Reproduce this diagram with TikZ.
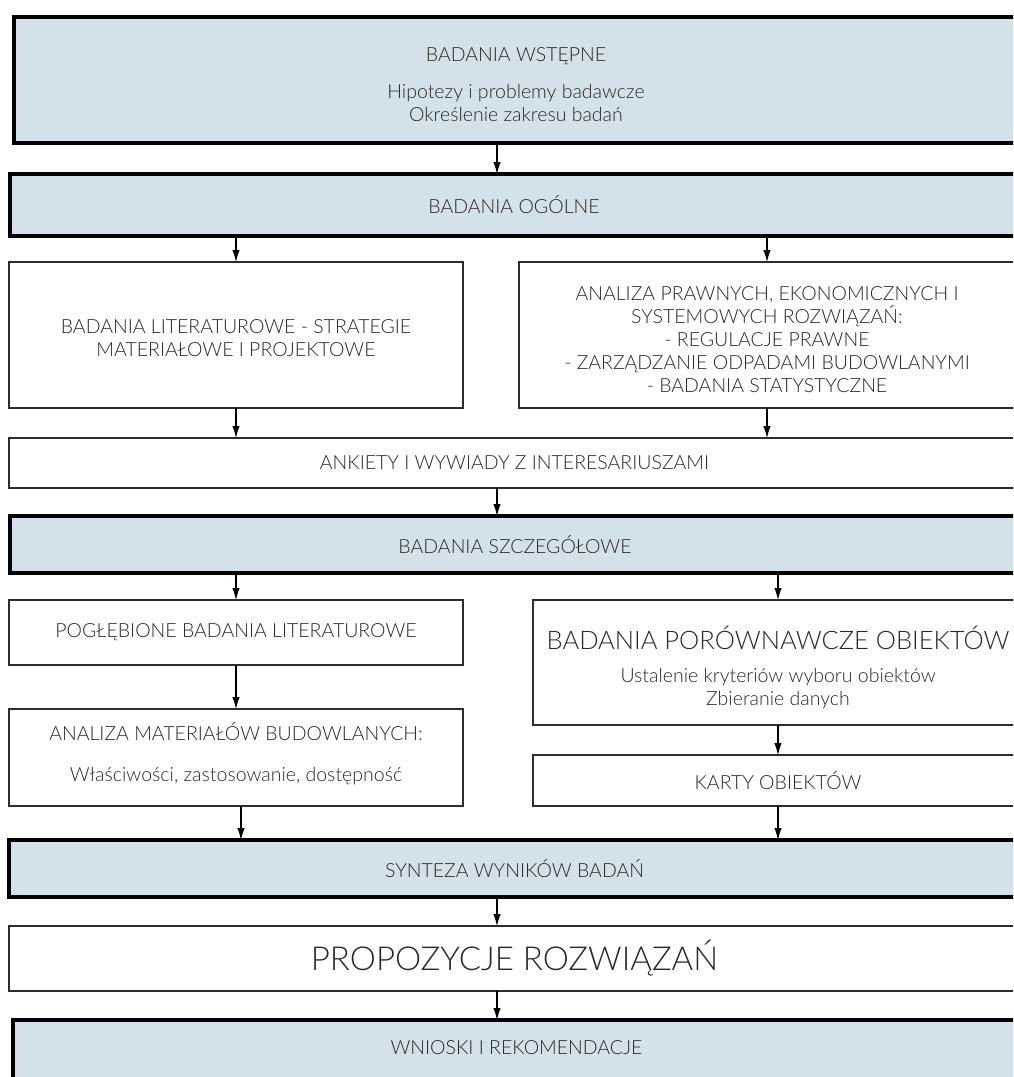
\documentclass[tikz,border=0pt]{standalone}
\usepackage{fontspec}
\setmainfont{Lato}[UprightFont={* Light}]
\usetikzlibrary{arrows.meta}
\definecolor{bluefill}{RGB}{211,225,232}
\definecolor{txtcol}{RGB}{40,40,40}
\definecolor{thinline}{RGB}{45,45,45}
\newcommand{\bigline}[1]{{\fontsize{25.5}{28}\selectfont #1}}
\tikzset{
  box/.style={rectangle, inner sep=0pt, outer sep=0pt, anchor=north west, align=center, text=txtcol,
    font=\fontsize{19.5}{23}\selectfont},
  thickbox/.style={box, draw=black, line width=3.5pt, fill=bluefill},
  thinbox/.style={box, draw=thinline, line width=1.6pt, fill=white},
  arr/.style={-{Latex[length=12pt,width=7.5pt]}, line width=1.1pt, draw=black},
  txt/.style={text=txtcol, inner sep=0pt, align=center, font=\fontsize{19.5}{23}\selectfont}
}
\begin{document}
\begin{tikzpicture}[x=1pt,y=-1pt]
\useasboundingbox (0,0) rectangle (1013,1077);
\clip (0,0) rectangle (1013,1077);
\fill[white] (0,0) rectangle (1013,1077);
\coordinate (mx) at (497,0);

% boxes
\node[thickbox, minimum width=1004pt, minimum height=126pt] (b1) at (14,17) {};
\node[thickbox, minimum width=1008pt, minimum height=62pt] (b2) at (10,174) {BADANIA OGÓLNE};
\node[thinbox, minimum width=454pt, minimum height=146pt] (b3) at (9,262) {};
\node[thinbox, minimum width=496pt, minimum height=146pt] (b4) at (519,262) {};
\node[thinbox, minimum width=1011pt, minimum height=50pt] (b5) at (9,438)
  {ANKIETY I WYWIADY Z INTERESARIUSZAMI};
\node[thickbox, minimum width=1010pt, minimum height=57pt] (b6) at (10,516) {BADANIA SZCZEGÓŁOWE};
\node[thinbox, minimum width=454pt, minimum height=65pt] (b7) at (9,600) {POGŁĘBIONE BADANIA LITERATUROWE};
\node[thinbox, minimum width=490pt, minimum height=125pt] (b8) at (533,600) {};
\node[thinbox, minimum width=454pt, minimum height=97pt] (b9) at (9,709) {};
\node[thinbox, minimum width=490pt, minimum height=51pt] (b10) at (533,755) {KARTY OBIEKTÓW};
\node[thickbox, minimum width=1011pt, minimum height=57pt] (b11) at (9,840) {SYNTEZA WYNIKÓW BADAŃ};
\node[thinbox, minimum width=1011pt, minimum height=65pt, font=\fontsize{33}{36}\selectfont] (b12) at (9,926) {PROPOZYCJE ROZWIĄZAŃ};
\node[thickbox, minimum width=1007pt, minimum height=80pt] (b13) at (13,1020) {};

% texts placed inside boxes
\node[txt] (t1) at ([yshift=-4.5pt]b1.center)
  {BADANIA WSTĘPNE\\[14pt] Hipotezy i problemy badawcze\\[0pt] Określenie zakresu badań};
\node[txt] (t3) at ([yshift=-3pt]b3.center)
  {BADANIA LITERATUROWE - STRATEGIE\\ MATERIAŁOWE I PROJEKTOWE};
\node[txt] (t4) at ([yshift=-5pt]b4.center)
  {ANALIZA PRAWNYCH, EKONOMICZNYCH I\\ SYSTEMOWYCH ROZWIĄZAŃ:\\ - REGULACJE PRAWNE\\ - ZARZĄDZANIE ODPADAMI BUDOWLANYMI\\ - BADANIA STATYSTYCZNE};
\node[txt] (t8) at ([yshift=-5pt]b8.center)
  {\bigline{BADANIA PORÓWNAWCZE OBIEKTÓW}\\[10pt]
   Ustalenie kryteriów wyboru obiektów\\[0pt] Zbieranie danych};
\node[txt] (t9) at ([yshift=4pt]b9.center)
  {ANALIZA MATERIAŁÓW BUDOWLANYCH:\\[18pt] Właściwości, zastosowanie, dostępność};
\node[txt] (t13) at ([yshift=-28pt]b13.north) {WNIOSKI I REKOMENDACJE};

% connectors
\coordinate (c9) at ([xshift=5pt]b9.south);
\draw[arr] (b1.south -| mx) -- (b2.north -| mx);
\draw[arr] (b2.south -| b3.north) -- (b3.north);
\draw[arr] (b2.south -| b4.north) -- (b4.north);
\draw[arr] (b3.south) -- (b5.north -| b3.south);
\draw[arr] (b4.south) -- (b5.north -| b4.south);
\draw[arr] (b5.south -| mx) -- (b6.north -| mx);
\draw[arr] (b6.south -| b7.north) -- (b7.north);
\draw[arr] (b6.south -| b8.north) -- (b8.north);
\draw[arr] (b7.south) -- (b9.north);
\draw[arr] (b8.south) -- (b10.north);
\draw[arr] (c9) -- (b11.north -| c9);
\draw[arr] (b10.south) -- (b11.north -| b10.south);
\draw[arr] (b11.south -| mx) -- (b12.north -| mx);
\draw[arr] (b12.south -| mx) -- (b13.north -| mx);
\end{tikzpicture}
\end{document}
